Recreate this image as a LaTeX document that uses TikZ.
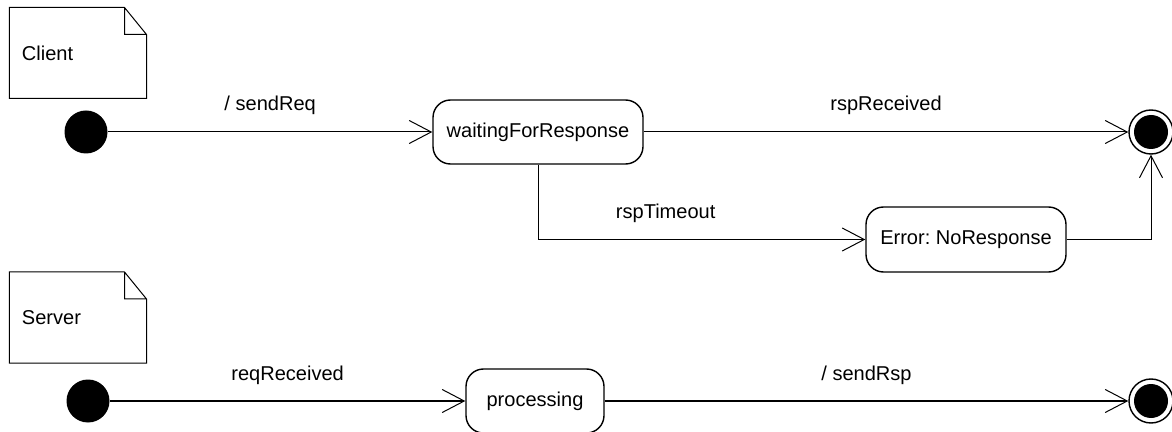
\documentclass[tikz,border=0pt]{standalone}
\usepackage{fontspec}
\setmainfont{Liberation Sans}
\usetikzlibrary{arrows.meta,calc}

\begin{document}
\frenchspacing
\begin{tikzpicture}[>={Straight Barb[length=0.44cm,width=0.46cm]}, line width=0.57pt,
	every node/.style={font=\fontsize{11.4}{13}\selectfont},
	state/.style={draw, rectangle, rounded corners=0.35cm, line width=0.8pt, minimum height=1.28cm},
	note/.style={minimum width=2.72cm, minimum height=1.8cm, text width=2.24cm, inner xsep=0.24cm, inner ysep=0, align=left},
	initial/.style={circle, fill=black, minimum size=0.86cm, inner sep=0},
	final/.style={circle, draw, line width=0.8pt, minimum size=0.88cm, inner sep=0,
		path picture={\fill (path picture bounding box.center) circle (0.34cm);}},
	lbl/.style={anchor=base, yshift=0.42cm}]
	\useasboundingbox (0,0) rectangle (23.44,-8.64);
	\node[note] (client) at (1.56,-1.06) {Client};
	\node[note] (server) at (1.56,-6.35) {Server};
	\draw (client.south west) -- (client.north west) -- ($(client.north east)+(-0.44,0)$)
	-- ($(client.north east)+(0,-0.54)$) -- (client.south east) -- cycle
	($(client.north east)+(-0.44,0)$) |- ($(client.north east)+(0,-0.54)$);
	\draw (server.south west) -- (server.north west) -- ($(server.north east)+(-0.44,0)$)
	-- ($(server.north east)+(0,-0.54)$) -- (server.south east) -- cycle
	($(server.north east)+(-0.44,0)$) |- ($(server.north east)+(0,-0.54)$);
	\node[initial] (clientstart) at (1.72,-2.64) {};
	\node[state, minimum width=4.2cm] (waiting) at (10.76,-2.64) {waitingForResponse};
	\node[state, minimum width=4.0cm, minimum height=1.3cm] (error) at (19.32,-4.79) {Error: NoResponse};
	\node[final] (clientend) at (23.02,-2.64) {};
	\node[initial] (serverstart) at (1.76,-8.02) {};
	\node[state, minimum width=2.76cm] (processing) at (10.7,-8.02) {processing};
	\node[final] (serverend) at (23.02,-8.02) {};
	\draw[->] (clientstart) -- node[lbl, midway] {/ sendReq} (waiting);
	\draw[->] (waiting) -- node[lbl, midway] {rspReceived} (clientend);
	\draw[->] (waiting) |- node[lbl, pos=0.695] {rspTimeout} (error);
	\draw[->] (error) -| (clientend);
	\draw[->] (serverstart) -- node[lbl, midway] {reqReceived} (processing);
	\draw[->] (processing) -- node[lbl, midway] {/ sendRsp} (serverend);
\end{tikzpicture}
\end{document}
